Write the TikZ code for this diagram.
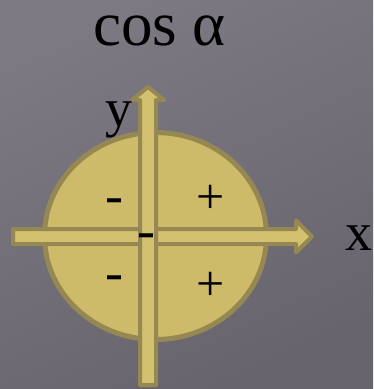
\documentclass[tikz,border=0pt]{standalone}
\usepackage{fontspec}
\setmainfont{Liberation Serif}
\usepackage{tikz}
\usetikzlibrary{positioning, calc}
\definecolor{bgtop}{RGB}{124,121,130}
\definecolor{bgbot}{RGB}{104,100,110}
\definecolor{sand}{RGB}{206,187,105}
\definecolor{sandfill}{RGB}{211,193,111}
\definecolor{sanddark}{RGB}{150,136,82}
\tikzset{
  disc/.style={draw=sanddark, line width=5pt, fill=sand},
  axisarrow/.style={draw=sanddark, line width=4pt, fill=sandfill,
                    line join=round, line cap=round},
  title/.style={font=\fontsize{63}{70}\selectfont, anchor=base,
                text height=0.5em, inner sep=0pt},
  axislabel/.style={font=\fontsize{54}{60}\selectfont, anchor=base},
  minussign/.style={font=\fontsize{54}{60}\selectfont, anchor=base},
  plussign/.style={font=\fontsize{50}{56}\selectfont, anchor=base},
}

\begin{document}
\begin{tikzpicture}[x=1pt, y=-1pt]
  % Background
  \useasboundingbox (0,0) rectangle (373,389);
  \shade[shading=axis, top color=bgtop, bottom color=bgbot, shading angle=25]
    (0,0) rectangle (373,389);

  % Title
  \node[title] (cosa) at (159.5,45) {cos α};

  % Unit circle
  \draw[disc] (155.5,236) ellipse [x radius=111, y radius=103.5];

  % x axis
  \draw[axisarrow] (13,229) -- (296,229) -- (296,220.5) -- (312,236.5)
    -- (296,252.5) -- (296,244) -- (13,244) -- cycle;

  % y axis
  \draw[axisarrow] (140,385) -- (140,100) -- (132,100) -- (148,87)
    -- (164,100) -- (156,100) -- (156,385) -- cycle;

  % Axis labels
  \node[axislabel] (ylab) at (119,126) {y};
  \node[axislabel] (xlab) at (359,250) {x};

  % Signs
  \node[minussign] (q2) at (114,213.2) {-};
  \node[plussign] (q1) at (210.5,213.5) {+};
  \node[minussign] (q3) at (114,290.2) {-};
  \node[plussign] (q4) at (210.5,300.5) {+};
  \node[minussign] (origin) at (146,248.2) {-};
\end{tikzpicture}
\end{document}
